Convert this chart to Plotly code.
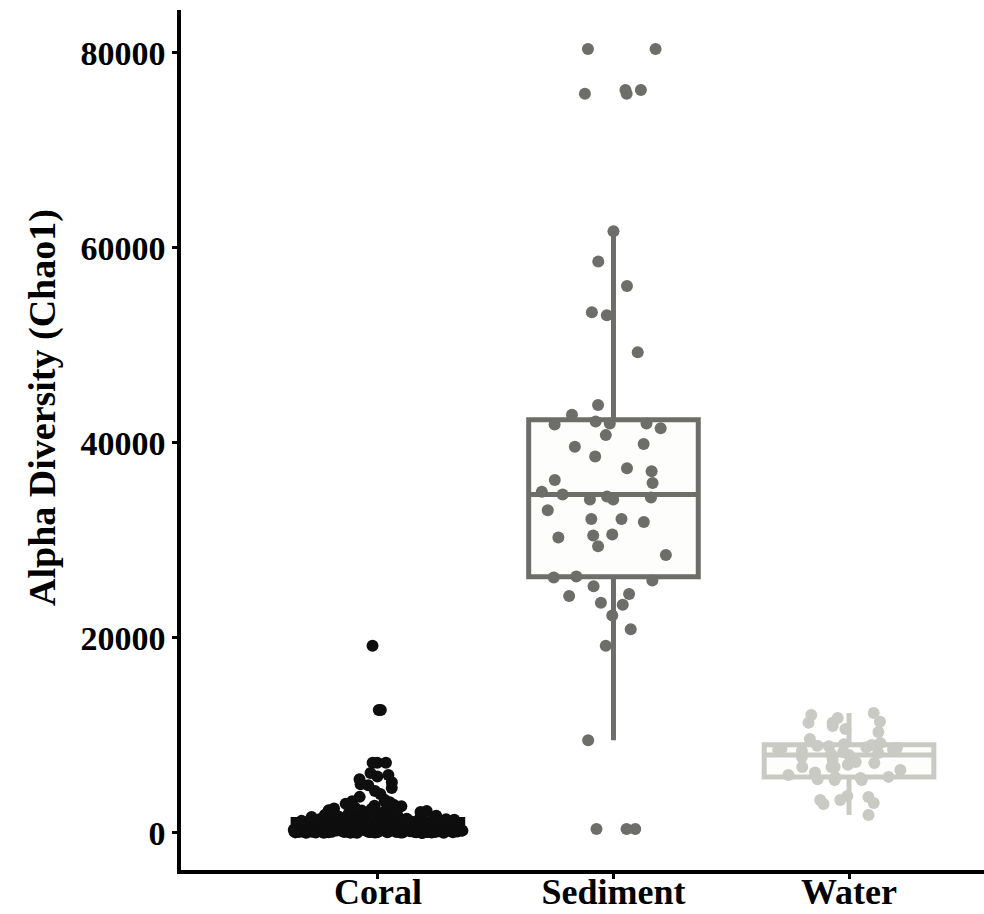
import plotly.graph_objects as go

categories = ["Coral", "Sediment", "Water"]

coral_values = [
    8, 21, 30, 37, 45, 52, 58, 63, 69, 72, 78, 81, 86, 90, 93, 97, 99, 103, 106, 109,
    111, 115, 117, 120, 122, 125, 127, 129, 131, 133, 135, 137, 139, 140, 142, 144, 145, 147, 148, 150,
    5, 14, 27, 35, 42, 50, 57, 64, 70, 77, 83, 89, 96, 102, 108, 114, 119, 126, 134, 143,
    160, 172, 185, 198, 205, 219, 230, 244, 251, 263, 270, 288, 295, 307, 318, 326, 339, 347, 355, 368,
    376, 389, 398, 405, 417, 426, 438, 445, 457, 466, 478, 489, 497, 508, 516, 529, 541, 556, 570, 588,
    165, 178, 192, 211, 226, 238, 257, 279, 301, 322, 344, 361, 383, 410, 432, 461, 484, 512, 547, 579,
    612, 628, 641, 655, 670, 684, 702, 716, 731, 748, 760, 779, 795, 812, 830, 846, 861, 879, 897, 915,
    932, 950, 968, 987, 1004, 1023, 1040, 1061, 1078, 1097, 1115, 1134, 1152, 1171, 1190, 1210, 1229, 1248, 1268, 1290,
    620, 648, 677, 709, 738, 770, 803, 838, 871, 905, 941, 977, 1013, 1050, 1088, 1125, 1162, 1200, 1239, 1279,
    1320, 1365, 1410, 1460, 1505, 1560, 1610, 1670, 1720, 1790, 1850, 1920, 1990, 2060, 2150, 2240, 2330, 2450,
    2560, 2680, 2790, 2900, 3000, 3100, 3150, 3250, 3400, 3700, 4000, 4300, 4600, 4900, 5200, 5500, 5800, 6150,
    1340, 1390, 1440, 1490, 1540, 1590, 1640, 1700, 1760, 1820, 1880, 1950, 2020, 2100, 2200, 2290, 2400, 2510, 2620, 2740,
    5000, 5950, 7200, 7200, 7200, 12600, 12600, 19200,
]

sediment_values = [
    400, 400, 400, 9500, 19200, 20900, 22300, 23400, 23600, 24300, 24500, 25300, 25900, 26200,
    26300,
    28500, 29400, 30300, 30500, 30600, 31900, 32200, 32200, 33100, 34200, 34200, 34400, 34500,
    34700,
    35000, 35900, 36200, 37100, 37400, 38600, 39600, 39900, 40800, 41500, 41900, 42000, 42000,
    42200,
    42900, 43900, 49300, 53100, 53400, 56100, 58600, 61700, 75800, 75800, 76200, 76200, 80400, 80400,
]

water_values = [
    1850, 2970, 3070, 3380, 3380, 3690, 3790, 5430, 5430, 5500, 5640, 5700,
    5750,
    5950, 6200, 6460, 6770, 6770, 6770, 7000, 7180, 7280, 7500, 7800,
    8000,
    8100, 8200, 8300, 8400, 8500, 8550, 8600, 8700, 8800, 8900, 8950,
    9030,
    9100, 9230, 9640, 10360, 10670, 10980, 11300, 11300, 11400, 11800, 12100, 12300,
]

y_tick_values = [0, 20000, 40000, 60000, 80000]
y_title = "Alpha Diversity (Chao1)"

series = [coral_values, sediment_values, water_values]
colors = ["#0e0e0e", "#6d6e69", "#c9cac4"]
jitters = [1.0, 0.95, 0.95]

fig = go.Figure()
for cat, vals, col, jit in zip(categories, series, colors, jitters):
    fig.add_trace(go.Box(
        x=[cat] * len(vals),
        y=vals,
        name=cat,
        boxpoints="all",
        jitter=jit,
        pointpos=0,
        width=0.72,
        whiskerwidth=0,
        fillcolor="#fdfdfb",
        line=dict(color=col, width=5),
        marker=dict(color=col, size=12, line=dict(width=0)),
        showlegend=False,
        hoverinfo="y",
    ))

font_family = "Liberation Serif, Times New Roman, serif"

fig.update_layout(
    width=984,
    height=914,
    margin=dict(l=181, r=0, t=10, b=44),
    paper_bgcolor="white",
    plot_bgcolor="white",
    showlegend=False,
    boxmode="overlay",
)

fig.add_annotation(
    text=y_title,
    xref="paper", yref="paper",
    x=-0.1731, y=0.5372,
    xanchor="center", yanchor="middle",
    textangle=-90,
    showarrow=False,
    font=dict(family=font_family, size=38, color="black", weight="bold"),
)

fig.update_xaxes(
    type="category",
    categoryorder="array",
    categoryarray=categories,
    range=[-0.836, 2.573],
    automargin=False,
    showline=True,
    linecolor="black",
    linewidth=3.5,
    showgrid=False,
    zeroline=False,
    ticks="outside",
    ticklen=5,
    tickwidth=2.5,
    tickcolor="black",
    ticklabelstandoff=-18,
    tickfont=dict(family=font_family, size=36, color="black", weight="bold"),
)

fig.update_yaxes(
    range=[-3800, 84400],
    tickvals=y_tick_values,
    ticktext=[str(v) for v in y_tick_values],
    automargin=False,
    showline=True,
    linecolor="black",
    linewidth=3.5,
    showgrid=False,
    zeroline=False,
    ticks="outside",
    ticklen=5,
    tickwidth=2.5,
    tickcolor="black",
    ticklabelstandoff=0,
    tickfont=dict(family=font_family, size=34, color="black", weight="bold"),
)

fig.write_html("out.html")
